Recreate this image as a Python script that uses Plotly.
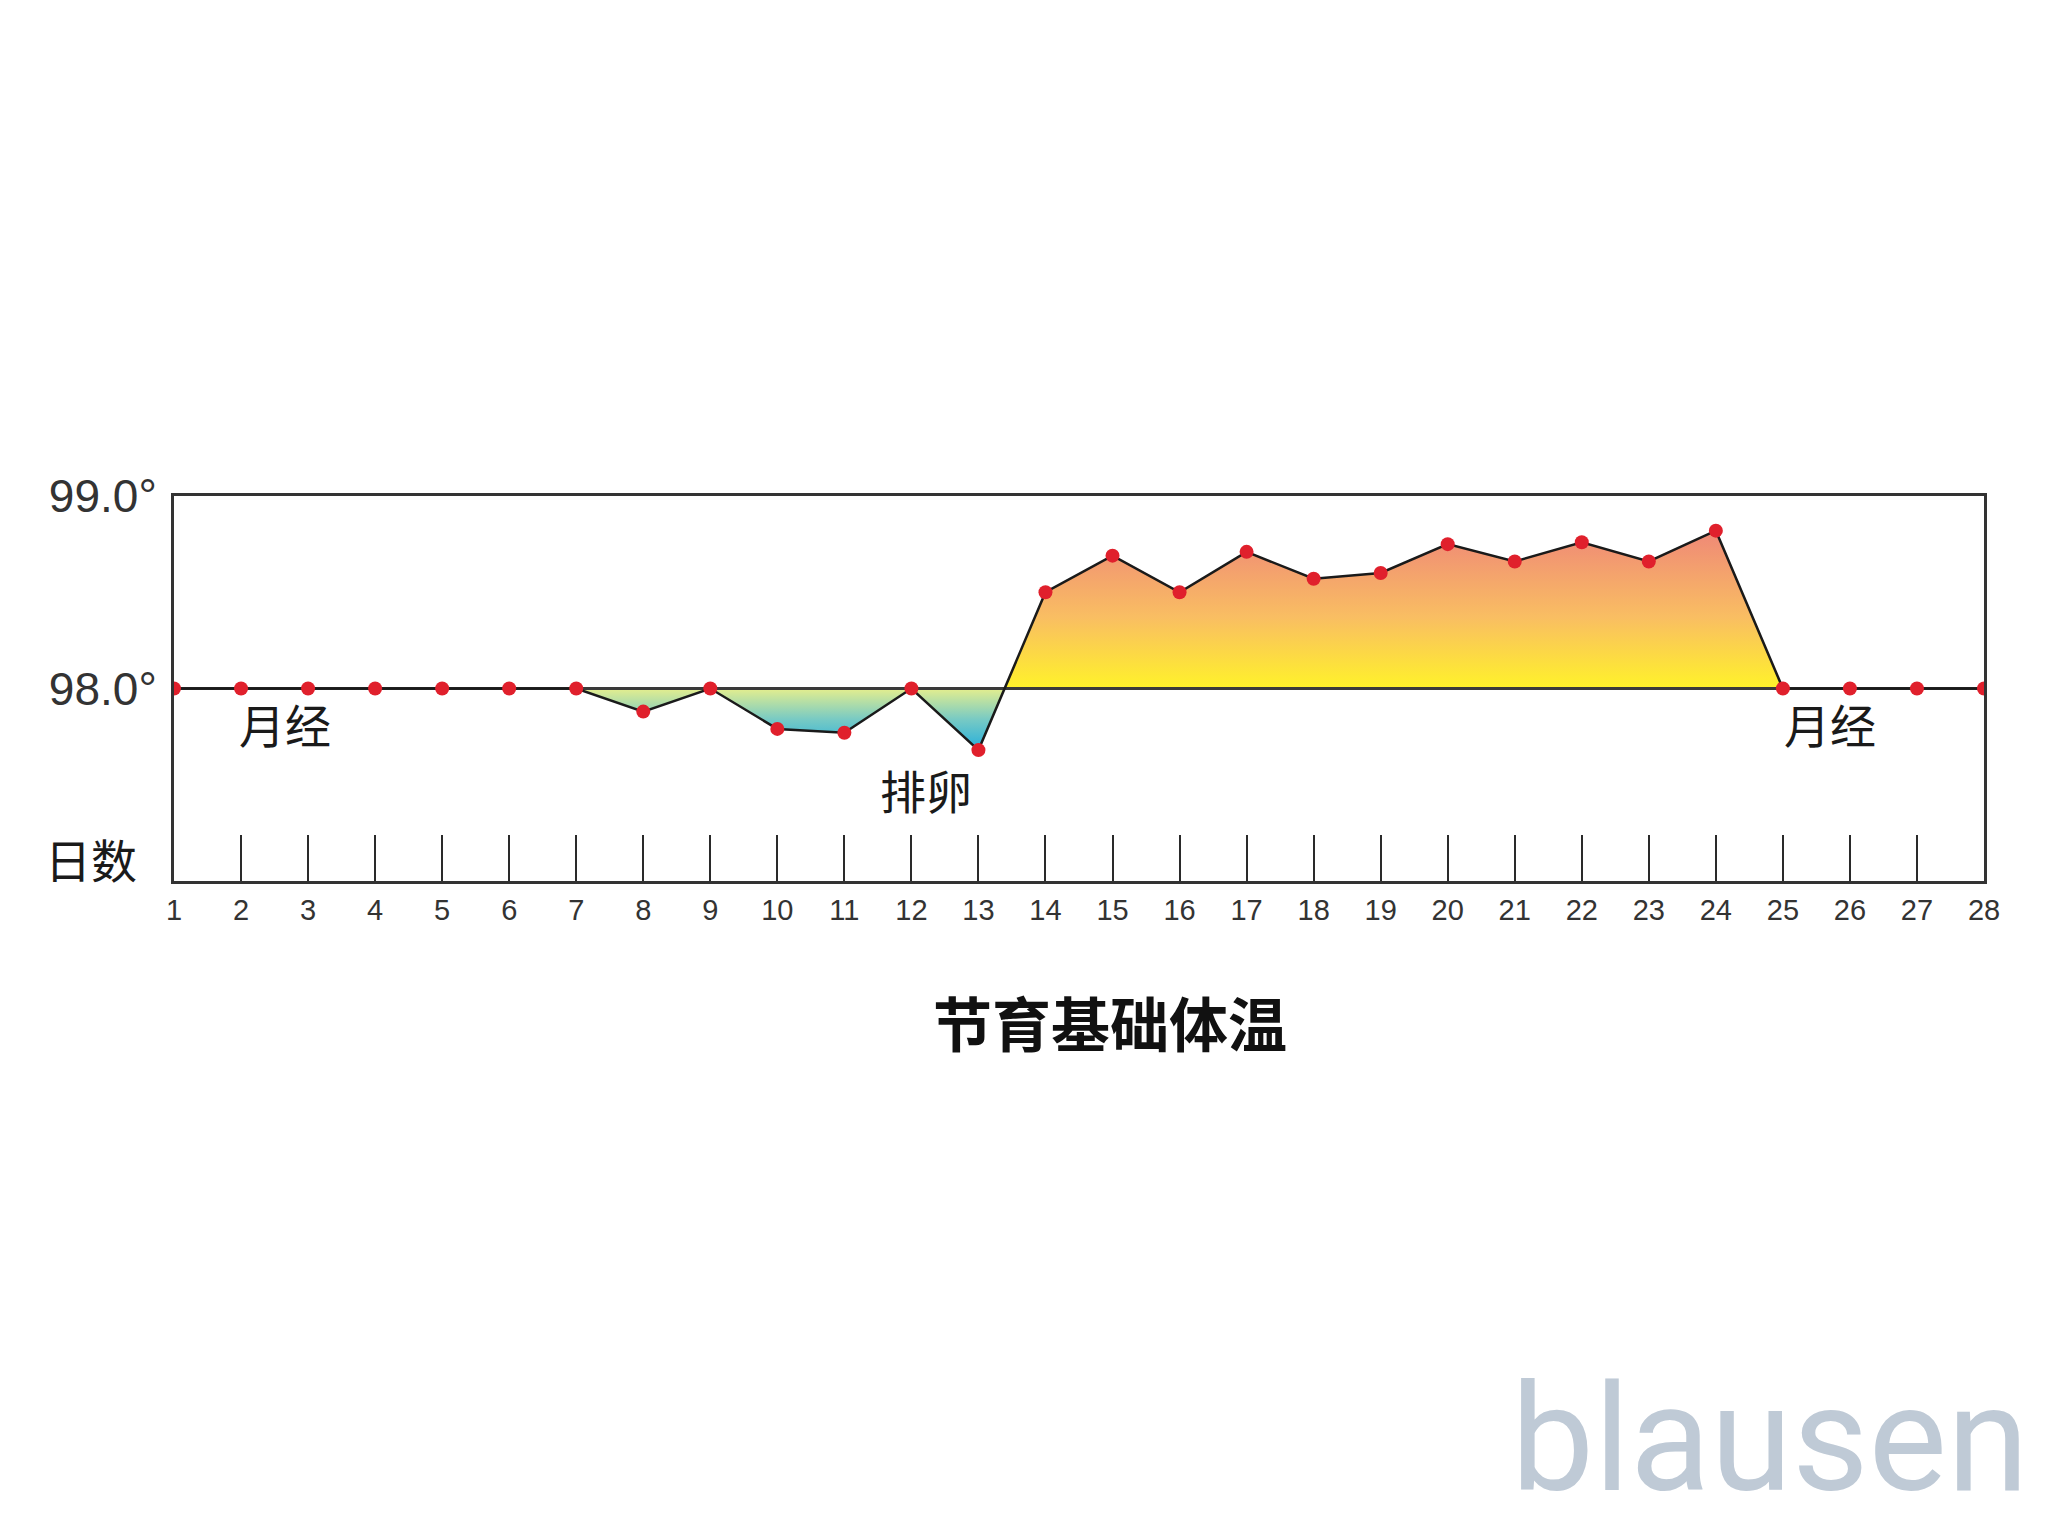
import plotly.graph_objects as go

# ---- data ----
days = list(range(1, 29))
temps = [98.0, 98.0, 98.0, 98.0, 98.0, 98.0, 98.0, 97.88, 98.0, 97.79,
         97.77, 98.0, 97.68, 98.5, 98.69, 98.5, 98.71, 98.57, 98.6, 98.75,
         98.66, 98.76, 98.66, 98.82, 98.0, 98.0, 98.0, 98.0]
BASELINE = 98.0
y_tickvals = [98.0, 99.0]
y_ticktext = ["98.0°", "99.0°"]
title_text = "节育基础体温"
y_axis_label = "日数"
notes = [("月经", 2.66), ("排卵", 12.22), ("月经", 25.7)]
note_temp = [97.82, 97.48, 97.82]
logo_text = "blausen"

# ---- split into above / below baseline, inserting crossings ----
def split_area(xs, ys, base):
    px, py, nx, ny = [], [], [], []
    for i in range(len(xs)):
        if i > 0:
            y0, y1 = ys[i - 1] - base, ys[i] - base
            if y0 * y1 < 0:
                xc = xs[i - 1] + (xs[i] - xs[i - 1]) * (-y0) / (y1 - y0)
                px.append(xc); py.append(base)
                nx.append(xc); ny.append(base)
        px.append(xs[i]); py.append(max(ys[i], base))
        nx.append(xs[i]); ny.append(min(ys[i], base))
    return px, py, nx, ny

px, py, nx, ny = split_area(days, temps, BASELINE)

fig = go.Figure()

# baseline for positive fill
fig.add_trace(go.Scatter(x=px, y=[BASELINE] * len(px), mode="lines",
                         line=dict(width=0), hoverinfo="skip", showlegend=False))
fig.add_trace(go.Scatter(
    x=px, y=py, mode="lines", line=dict(width=0), fill="tonexty",
    fillgradient=dict(type="vertical", start=BASELINE, stop=max(temps),
                      colorscale=[[0, "#FFF22A"], [0.45, "#F9BE62"], [1, "#EF8877"]]),
    hoverinfo="skip", showlegend=False))

# baseline for negative fill
fig.add_trace(go.Scatter(x=nx, y=[BASELINE] * len(nx), mode="lines",
                         line=dict(width=0), hoverinfo="skip", showlegend=False))
fig.add_trace(go.Scatter(
    x=nx, y=ny, mode="lines", line=dict(width=0), fill="tonexty",
    fillgradient=dict(type="vertical", start=min(temps), stop=BASELINE,
                      colorscale=[[0, "#24AEDC"], [0.5, "#78CAC4"], [1, "#E4EE8E"]]),
    hoverinfo="skip", showlegend=False))

# the 98.0 reference line
fig.add_trace(go.Scatter(x=days, y=[BASELINE] * len(days), mode="lines",
                         line=dict(color="#3a3a3a", width=3),
                         hoverinfo="skip", showlegend=False))

# temperature line with markers
fig.add_trace(go.Scatter(x=days, y=temps, mode="lines+markers",
                         line=dict(color="#1a1a1a", width=2.5),
                         marker=dict(color="#E0202C", size=14, line=dict(width=0)),
                         showlegend=False))

# notes
for (txt, xv), yv in zip(notes, note_temp):
    fig.add_annotation(x=xv, y=yv, text=txt, showarrow=False, xref="x", yref="y",
                       font=dict(family="Noto Sans CJK SC", size=46, color="#1a1a1a"))

fig.add_annotation(x=-0.046, y=0.06, xref="paper", yref="paper", text=y_axis_label,
                   showarrow=False, xanchor="center", yanchor="middle",
                   font=dict(family="Noto Sans CJK SC", size=46, color="#1a1a1a"))

fig.add_annotation(x=0.5171, y=-0.365, xref="paper", yref="paper", text=title_text,
                   showarrow=False, xanchor="center", yanchor="middle",
                   font=dict(family="Noto Sans CJK SC", size=59, color="#111111", weight="bold"))

fig.add_annotation(x=1.026, y=-1.45, xref="paper", yref="paper", text=logo_text,
                   showarrow=False, xanchor="right", yanchor="middle",
                   font=dict(family="Roboto", size=148, color="#BFCAD6"))

fig.update_xaxes(range=[1, 28], tickvals=days, ticks="inside", ticklen=46, tickwidth=2,
                 tickcolor="#2a2a2a", showline=True, mirror=True, linewidth=3,
                 linecolor="#333333", showgrid=False, zeroline=False,
                 tickfont=dict(family="Liberation Sans", size=29, color="#333333"),
                 ticklabelstandoff=1)
fig.update_yaxes(range=[97, 99], tickvals=y_tickvals, ticktext=y_ticktext, ticks="",
                 showline=True, mirror=True, linewidth=3, linecolor="#333333",
                 showgrid=False, zeroline=False,
                 tickfont=dict(family="Liberation Sans", size=46, color="#333333"),
                 ticklabelstandoff=5)

fig.update_layout(width=2048, height=1536, autosize=False,
                  margin=dict(l=174, r=64, t=496, b=655, pad=0),
                  paper_bgcolor="white", plot_bgcolor="white")

fig.write_html("out.html", config={"displayModeBar": False},
               post_script="document.body.style.margin='0';document.body.style.overflow='hidden';")
